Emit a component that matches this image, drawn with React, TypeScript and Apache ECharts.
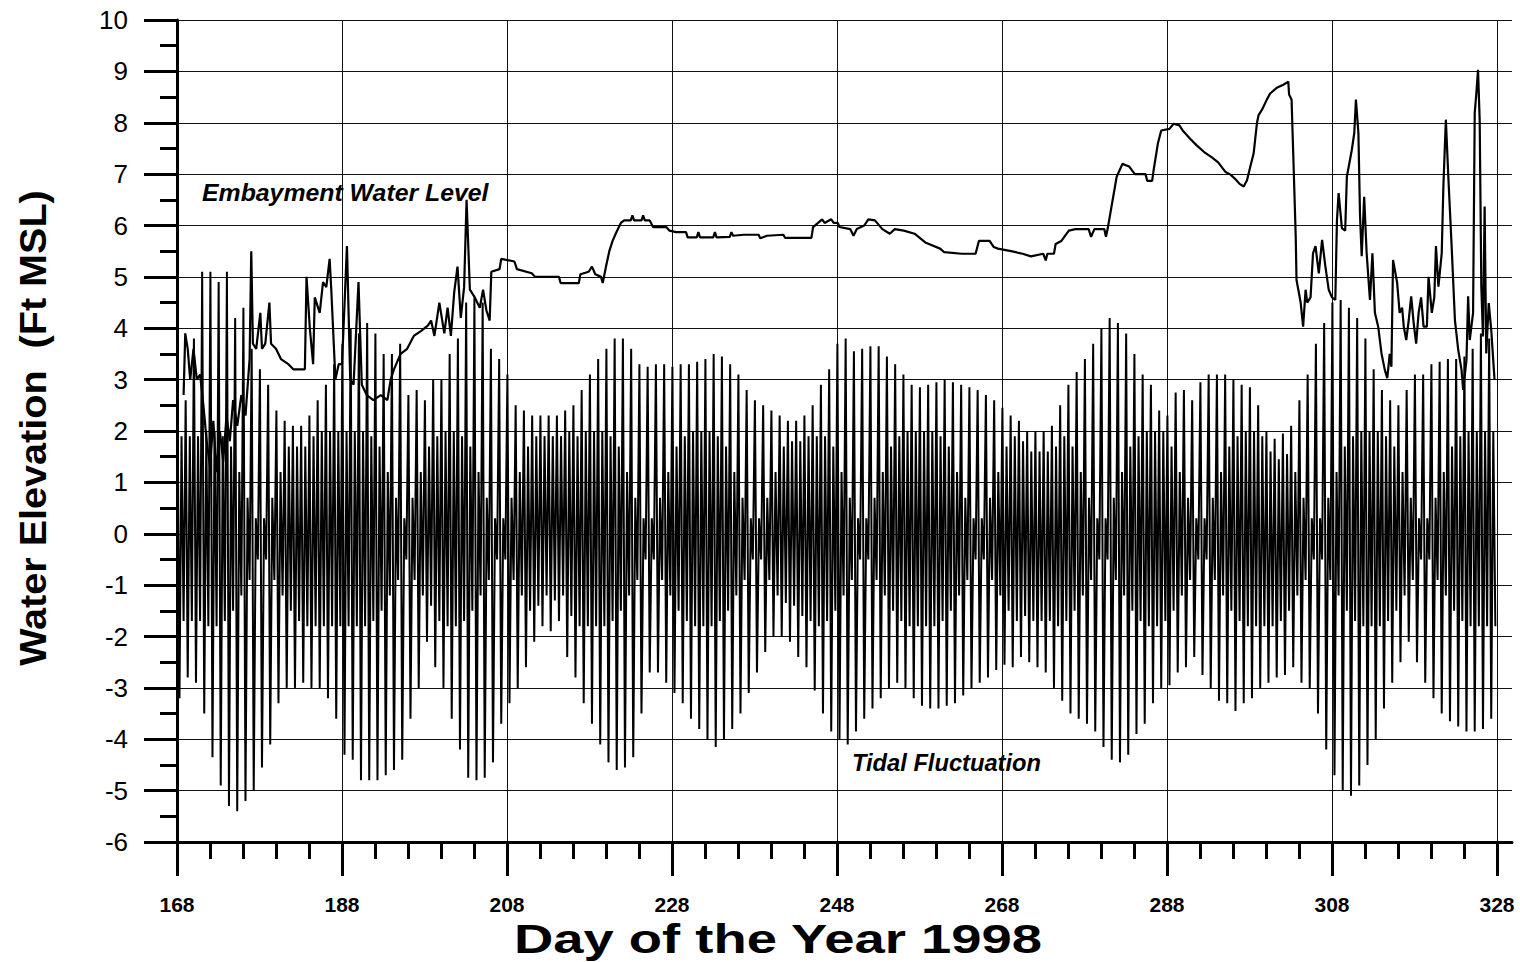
import { useEffect, useRef } from "react";
import * as echarts from "echarts";

// First day of the record; the x axis runs in days after this one.
const FIRST_DAY = 168;

// Tide extremes, one entry per day from day 168 to day 327 (ft MSL).
const higherHigh = [
  3.0, 2.6, 3.8, 5.1, 5.1, 4.9, 5.1, 4.2, 4.4, 3.6,
  3.2, 2.9, 2.4, 2.2, 2.1, 2.1, 2.3, 2.6, 2.9, 3.3,
  3.7, 4.0, 3.9, 4.1, 3.9, 3.5, 3.5, 3.7, 2.7, 2.8,
  2.6, 3.0, 3.0, 3.5, 3.8, 4.5, 4.6, 4.5, 3.6, 3.4,
  3.1, 2.5, 2.4, 2.3, 2.3, 2.3, 2.3, 2.4, 2.5, 2.8,
  3.1, 3.4, 3.6, 3.8, 3.8, 3.6, 3.3, 3.25, 3.3, 3.3,
  3.25, 3.3, 3.3, 3.35, 3.4, 3.5, 3.45, 3.3, 3.1, 2.8,
  2.6, 2.5, 2.4, 2.3, 2.2, 2.2, 2.3, 2.5, 2.9, 3.2,
  3.7, 3.8, 3.55, 3.6, 3.65, 3.65, 3.45, 3.3, 3.1, 2.9,
  2.85, 2.9, 2.95, 3.0, 2.95, 2.9, 2.85, 2.8, 2.7, 2.6,
  2.45, 2.3, 2.2, 2.0, 2.0, 2.0, 2.1, 2.5, 2.9, 3.15,
  3.4, 3.7, 4.0, 4.2, 4.1, 3.9, 3.5, 3.1, 2.9, 2.4,
  2.3, 2.75, 2.8, 2.6, 2.95, 3.1, 3.1, 3.1, 3.0, 2.9,
  2.85, 2.5, 2.0, 1.85, 1.95, 2.1, 2.6, 3.1, 3.7, 4.1,
  4.5, 4.55, 4.4, 4.2, 3.8, 3.2, 2.8, 2.6, 2.5, 2.8,
  3.1, 3.1, 3.3, 3.35, 3.4, 3.4, 3.45, 3.6, 3.9, 3.8,
];

const lowerLow = [
  -3.2, -2.8, -2.9, -3.5, -4.35, -4.9, -5.3, -5.4, -5.2, -5.0,
  -4.55, -4.1, -3.3, -3.0, -3.0, -2.9, -3.0, -3.0, -3.2, -3.6,
  -4.3, -4.4, -4.8, -4.8, -4.8, -4.7, -4.6, -4.4, -3.6, -3.0,
  -2.1, -2.6, -3.0, -3.6, -4.2, -4.75, -4.8, -4.75, -4.45, -3.7,
  -3.3, -3.0, -2.6, -2.1, -1.8, -1.9, -1.7, -2.4, -2.8, -3.3,
  -3.7, -4.1, -4.45, -4.6, -4.55, -4.35, -3.5, -2.7, -2.7, -2.9,
  -3.1, -3.3, -3.6, -3.8, -4.0, -4.15, -4.0, -3.8, -3.5, -3.1,
  -2.7, -2.3, -2.0, -2.0, -2.1, -2.4, -2.6, -3.05, -3.5, -3.85,
  -4.0, -4.1, -3.85, -3.6, -3.4, -3.2, -3.0, -2.9, -3.0, -3.2,
  -3.35, -3.4, -3.4, -3.35, -3.3, -3.15, -3.0, -2.9, -2.8, -2.65,
  -2.55, -2.6, -2.4, -2.5, -2.6, -2.7, -3.0, -3.25, -3.5, -3.6,
  -3.7, -3.85, -4.15, -4.4, -4.45, -4.3, -3.9, -3.7, -3.3, -3.0,
  -2.95, -2.7, -2.6, -2.4, -2.75, -3.0, -3.25, -3.3, -3.45, -3.3,
  -3.2, -3.0, -2.9, -2.8, -2.75, -2.6, -2.9, -3.0, -3.5, -4.2,
  -4.7, -5.0, -5.1, -4.9, -4.5, -4.0, -3.4, -2.9, -2.5, -2.1,
  -2.5, -2.9, -3.2, -3.5, -3.65, -3.75, -3.85, -3.85, -3.8, -3.6,
];

const lowerHigh = [
  1.9, 1.9, 1.9, 2.0, 2.0, 1.9, 1.7, 1.2, 0.7, 0.3,
  0.3, 0.7, 1.2, 1.7, 1.7, 1.7, 1.9, 2.0, 2.0, 2.0,
  2.0, 2.0, 2.0, 1.9, 1.7, 1.2, 0.7, 0.3, 0.7, 1.2,
  1.7, 1.9, 2.0, 2.0, 1.9, 1.7, 1.2, 0.7, 0.3, 0.3,
  0.7, 1.2, 1.7, 1.9, 1.9, 1.9, 1.9, 2.0, 1.9, 2.0,
  2.0, 2.0, 1.9, 1.7, 1.2, 0.7, 0.3, 0.3, 0.7, 1.2,
  1.7, 1.9, 2.0, 2.0, 2.0, 1.9, 1.7, 1.2, 0.7, 0.3,
  0.3, 0.7, 1.2, 1.7, 1.8, 1.8, 1.9, 1.9, 1.9, 1.7,
  1.2, 0.7, 0.3, 0.3, 0.7, 1.2, 1.7, 1.9, 2.0, 2.0,
  2.0, 2.0, 1.9, 1.7, 1.2, 0.7, 0.3, 0.3, 0.7, 1.2,
  1.7, 1.9, 1.8, 1.6, 1.6, 1.6, 1.7, 1.9, 1.7, 1.2,
  0.7, 0.3, 0.3, 0.7, 1.2, 1.7, 1.9, 2.0, 2.0, 2.0,
  1.7, 1.2, 0.7, 0.3, 0.3, 0.7, 1.2, 1.7, 1.9, 2.0,
  2.0, 1.9, 1.6, 1.45, 1.55, 1.2, 0.7, 0.3, 0.3, 0.7,
  1.2, 1.7, 1.9, 2.0, 2.0, 2.0, 1.9, 1.7, 1.2, 0.7,
  0.3, 0.3, 0.7, 1.2, 1.7, 1.9, 2.0, 2.0, 2.0, 2.0,
];

const higherLow = [
  -1.7, -1.7, -1.7, -1.8, -1.8, -1.7, -1.5, -1.2, -0.9, -0.5,
  -0.5, -0.9, -1.2, -1.5, -1.7, -1.8, -1.8, -1.8, -1.8, -1.8,
  -1.8, -1.8, -1.8, -1.7, -1.5, -1.2, -0.9, -0.5, -0.9, -1.2,
  -1.4, -1.7, -1.8, -1.8, -1.7, -1.5, -1.2, -0.9, -0.5, -0.5,
  -0.9, -1.2, -1.5, -1.4, -1.2, -1.3, -1.2, -1.6, -1.8, -1.8,
  -1.8, -1.8, -1.7, -1.5, -1.2, -0.9, -0.5, -0.5, -0.9, -1.2,
  -1.5, -1.7, -1.8, -1.8, -1.8, -1.7, -1.5, -1.2, -0.9, -0.5,
  -0.5, -0.9, -1.2, -1.35, -1.4, -1.6, -1.7, -1.8, -1.7, -1.5,
  -1.2, -0.9, -0.5, -0.5, -0.9, -1.2, -1.5, -1.7, -1.8, -1.8,
  -1.8, -1.8, -1.7, -1.5, -1.2, -0.9, -0.5, -0.5, -0.9, -1.2,
  -1.5, -1.7, -1.6, -1.7, -1.7, -1.7, -1.8, -1.7, -1.5, -1.2,
  -0.9, -0.5, -0.5, -0.9, -1.2, -1.5, -1.7, -1.8, -1.8, -1.7,
  -1.5, -1.2, -0.9, -0.5, -0.5, -0.9, -1.2, -1.5, -1.7, -1.8,
  -1.8, -1.8, -1.8, -1.7, -1.5, -1.2, -0.9, -0.5, -0.5, -0.9,
  -1.2, -1.5, -1.7, -1.8, -1.8, -1.8, -1.7, -1.5, -1.2, -0.9,
  -0.5, -0.5, -0.9, -1.2, -1.5, -1.7, -1.8, -1.8, -1.8, -1.8,
];

// When in each day the four tide extremes occur (fraction of a day).
const tidePhase = [0.05, 0.3, 0.55, 0.8];

// Embayment water level record: day of year and level (ft MSL).
const embaymentDay = [
  168.8, 169.0, 169.3, 169.6, 170.0, 170.4, 170.8, 171.2, 171.6, 172.0,
  172.4, 172.8, 173.2, 173.6, 174.0, 174.4, 174.8, 175.3, 175.8, 176.3,
  176.8, 177.0, 177.2, 177.6, 178.1, 178.3, 178.7, 179.2, 179.4, 180.0,
  180.6, 181.5, 182.1, 182.9, 183.5, 183.7, 184.1, 184.5, 184.7, 185.3,
  185.7, 186.1, 186.5, 186.7, 187.2, 187.6, 188.0, 188.6, 189.0, 189.4,
  190.0, 190.4, 191.0, 191.8, 192.7, 193.5, 193.9, 194.3, 195.1, 195.9,
  196.7, 197.6, 198.4, 198.8, 199.2, 199.8, 200.4, 200.8, 201.2, 201.6,
  202.0, 202.4, 202.8, 203.1, 203.5, 204.1, 204.7, 205.1, 205.5, 205.9,
  206.1, 207.1, 207.3, 208.9, 209.2, 211.0, 211.4, 214.3, 214.5, 216.7,
  216.9, 217.9, 218.3, 218.7, 219.4, 219.6, 220.0, 220.4, 220.8, 221.2,
  221.8, 222.2, 223.0, 223.2, 223.4, 224.3, 224.5, 224.7, 225.3, 225.7,
  227.3, 227.7, 228.5, 229.7, 229.9, 231.0, 231.2, 231.4, 233.0, 233.2,
  233.4, 235.0, 235.2, 235.4, 236.7, 238.5, 238.7, 239.5, 241.5, 241.7,
  244.9, 245.1, 245.7, 246.2, 246.5, 247.3, 247.6, 248.1, 248.3, 249.6,
  250.0, 250.4, 251.3, 251.8, 252.6, 253.5, 254.4, 255.0, 256.1, 257.4,
  258.7, 260.5, 261.0, 263.1, 264.8, 265.2, 266.5, 267.0, 267.5, 269.1,
  270.5, 271.5, 273.0, 273.3, 273.5, 274.3, 274.5, 275.2, 276.1, 276.9,
  278.5, 278.8, 279.2, 280.4, 280.6, 280.8, 281.2, 281.9, 282.6, 283.4,
  284.1, 285.4, 285.6, 286.2, 286.4, 286.9, 287.3, 288.3, 288.8, 289.5,
  289.9, 290.8, 291.6, 292.5, 293.4, 294.2, 295.1, 295.7, 296.3, 296.8,
  297.3, 297.7, 298.1, 298.5, 298.9, 299.1, 299.5, 300.1, 300.5, 301.3,
  302.1, 302.7, 302.8, 303.1, 303.3, 303.6, 303.7, 304.2, 304.5, 304.8,
  305.0, 305.4, 305.7, 306.0, 306.4, 306.8, 307.2, 307.6, 308.0, 308.4,
  308.6, 308.8, 309.2, 309.6, 309.8, 310.4, 310.7, 310.9, 311.2, 311.4,
  311.6, 311.9, 312.2, 312.6, 312.9, 313.2, 313.6, 314.0, 314.4, 314.7,
  315.0, 315.2, 315.4, 315.9, 316.2, 316.5, 316.7, 317.0, 317.3, 317.6,
  317.9, 318.2, 318.5, 318.8, 319.1, 319.5, 319.7, 320.1, 320.4, 320.6,
  320.9, 321.3, 321.5, 321.8, 322.1, 322.5, 322.9, 323.3, 323.7, 323.9,
  324.3, 324.5, 324.7, 325.1, 325.3, 325.5, 325.7, 325.9, 326.1, 326.3,
  326.5, 326.7, 327.0, 327.3, 327.7,
];

const embaymentLevel = [
  2.7, 3.9, 3.6, 3.0, 3.6, 3.0, 3.1, 2.5, 1.8, 1.3,
  2.2, 1.2, 2.0, 1.4, 2.3, 1.8, 2.6, 2.1, 2.7, 2.3,
  3.4, 5.5, 3.7, 3.6, 4.3, 3.6, 3.7, 4.5, 3.7, 3.6,
  3.4, 3.3, 3.2, 3.2, 3.2, 5.0, 4.0, 3.3, 4.6, 4.3,
  4.9, 4.8, 5.35, 4.75, 3.0, 3.3, 3.3, 5.6, 3.0, 2.9,
  4.9, 2.9, 2.7, 2.6, 2.7, 2.6, 3.0, 3.2, 3.5, 3.6,
  3.85, 3.95, 4.05, 4.15, 3.85, 4.5, 3.9, 4.4, 3.85, 4.7,
  5.2, 4.2, 4.8, 6.5, 4.75, 4.6, 4.4, 4.75, 4.35, 4.15,
  5.1, 5.15, 5.35, 5.3, 5.15, 5.07, 5.0, 5.0, 4.88, 4.88,
  5.05, 5.1, 5.2, 5.05, 5.0, 4.88, 5.2, 5.5, 5.7, 5.85,
  6.05, 6.1, 6.1, 6.2, 6.1, 6.1, 6.2, 6.1, 6.1, 5.97,
  5.97, 5.9, 5.87, 5.87, 5.77, 5.77, 5.87, 5.77, 5.77, 5.87,
  5.77, 5.78, 5.87, 5.8, 5.82, 5.82, 5.75, 5.8, 5.82, 5.76,
  5.76, 5.97, 6.05, 6.12, 6.05, 6.12, 6.05, 6.05, 5.97, 5.93,
  5.8, 5.93, 6.0, 6.12, 6.1, 5.93, 5.84, 5.93, 5.9, 5.84,
  5.67, 5.55, 5.48, 5.45, 5.45, 5.7, 5.7, 5.58, 5.55, 5.5,
  5.45, 5.4, 5.45, 5.32, 5.45, 5.45, 5.64, 5.7, 5.9, 5.93,
  5.93, 5.78, 5.93, 5.93, 5.78, 5.93, 6.3, 6.95, 7.2, 7.15,
  7.0, 7.0, 6.87, 6.87, 7.1, 7.6, 7.85, 7.88, 7.98, 7.95,
  7.85, 7.69, 7.56, 7.43, 7.33, 7.23, 7.04, 6.99, 6.9, 6.81,
  6.76, 6.88, 7.15, 7.4, 7.99, 8.15, 8.25, 8.45, 8.57, 8.68,
  8.74, 8.8, 8.55, 8.45, 7.4, 5.8, 4.94, 4.5, 4.03, 4.75,
  4.5, 4.6, 5.46, 5.6, 5.07, 5.72, 5.2, 4.75, 4.6, 4.55,
  6.1, 6.63, 5.95, 5.9, 6.95, 7.47, 7.8, 8.45, 7.8, 6.18,
  5.4, 6.56, 5.46, 4.55, 5.46, 4.3, 4.03, 3.51, 3.19, 3.03,
  3.5, 3.25, 5.33, 4.88, 4.3, 4.4, 4.03, 3.77, 4.16, 4.62,
  4.1, 3.7, 4.3, 4.6, 4.03, 4.03, 5.0, 4.3, 4.6, 5.6,
  4.81, 5.46, 6.76, 8.06, 6.95, 5.6, 4.16, 3.58, 3.19, 2.8,
  3.38, 4.62, 3.77, 4.3, 8.19, 8.58, 9.03, 8.06, 4.81, 3.84,
  6.37, 3.51, 4.49, 3.97, 3.0,
];

const yAxisTitle = "Water Elevation  (Ft MSL)";
const xAxisTitle = "Day of the Year 1998";
const embaymentLabel = "Embayment Water Level";
const tideLabel = "Tidal Fluctuation";

const FONT = '"Liberation Sans", Arial, Helvetica, sans-serif';
const INK = "#000";

export default function App() {
  const ref = useRef<HTMLDivElement>(null);

  useEffect(() => {
    if (!ref.current) return;
    const chart = echarts.init(ref.current, null, { renderer: "svg" });

    // Tide trace: higher high, lower low, lower high, higher low in each day.
    const tide: number[][] = [];
    higherHigh.forEach((hh, i) => {
      const levels = [hh, lowerLow[i], lowerHigh[i], higherLow[i]];
      levels.forEach((v, k) => tide.push([i + tidePhase[k], v]));
    });

    const embayment = embaymentDay.map((d, i) => [d - FIRST_DAY, embaymentLevel[i]]);

    const tickStyle = { color: INK, width: 3 };
    const gridLine = { color: "#111", width: 1 };

    chart.setOption({
      animation: false,
      backgroundColor: "#fff",
      grid: [
        { left: 177, right: 23, top: 20, bottom: 120 },
        { left: 1497, right: 8, top: 20, bottom: 120 },
      ],
      xAxis: [
        {
          type: "value",
          gridIndex: 0,
          min: 0,
          max: 160,
          interval: 20,
          axisLine: { show: true, onZero: false, lineStyle: tickStyle },
          axisTick: { show: true, inside: false, length: 34, lineStyle: tickStyle },
          minorTick: { show: true, splitNumber: 5, length: 17, lineStyle: tickStyle },
          axisLabel: {
            formatter: (v: number) => String(v + FIRST_DAY),
            fontSize: 21,
            fontWeight: "bold",
            fontFamily: FONT,
            color: INK,
            margin: 52,
          },
          splitLine: { show: true, lineStyle: gridLine },
        },
        {
          type: "value",
          gridIndex: 1,
          min: 0,
          max: 1,
          axisLine: { show: true, onZero: false, lineStyle: tickStyle },
          axisTick: { show: false },
          axisLabel: { show: false },
          splitLine: { show: false },
        },
      ],
      yAxis: [
        {
          type: "value",
          gridIndex: 0,
          min: -6,
          max: 10,
          interval: 1,
          axisLine: { show: true, onZero: false, lineStyle: tickStyle },
          axisTick: { show: true, inside: false, length: 33, lineStyle: tickStyle },
          minorTick: { show: true, splitNumber: 2, length: 17, lineStyle: tickStyle },
          axisLabel: { fontSize: 26, fontFamily: FONT, color: INK, margin: 49 },
          splitLine: { show: true, lineStyle: gridLine },
        },
        {
          type: "value",
          gridIndex: 1,
          min: -6,
          max: 10,
          interval: 1,
          axisLine: { show: false },
          axisTick: { show: false },
          axisLabel: { show: false },
          splitLine: { show: true, lineStyle: gridLine },
        },
      ],
      series: [
        {
          name: tideLabel,
          type: "line",
          xAxisIndex: 0,
          yAxisIndex: 0,
          data: tide,
          symbol: "none",
          showSymbol: false,
          silent: true,
          lineStyle: { color: INK, width: 2 },
        },
        {
          name: embaymentLabel,
          type: "line",
          xAxisIndex: 0,
          yAxisIndex: 0,
          data: embayment,
          symbol: "none",
          showSymbol: false,
          silent: true,
          lineStyle: { color: INK, width: 2.2 },
        },
      ],
      graphic: [
        {
          type: "text",
          x: 33,
          y: 428,
          rotation: Math.PI / 2,
          scaleX: 1.07,
          style: {
            text: yAxisTitle,
            fill: INK,
            fontSize: 37,
            fontWeight: "bold",
            fontFamily: FONT,
            align: "center",
            verticalAlign: "middle",
          },
        },
        {
          type: "text",
          x: 778,
          y: 939,
          scaleX: 1.36,
          style: {
            text: xAxisTitle,
            fill: INK,
            fontSize: 40,
            fontWeight: "bold",
            fontFamily: FONT,
            align: "center",
            verticalAlign: "middle",
          },
        },
        {
          type: "text",
          x: 202,
          y: 193,
          scaleX: 1.08,
          style: {
            text: embaymentLabel,
            fill: INK,
            fontSize: 23,
            fontWeight: "bold",
            fontStyle: "italic",
            fontFamily: FONT,
            align: "left",
            verticalAlign: "middle",
          },
        },
        {
          type: "text",
          x: 852,
          y: 763,
          scaleX: 1.03,
          style: {
            text: tideLabel,
            fill: INK,
            fontSize: 23,
            fontWeight: "bold",
            fontStyle: "italic",
            fontFamily: FONT,
            align: "left",
            verticalAlign: "middle",
          },
        },
      ],
    });

    return () => chart.dispose();
  }, []);

  return (
    <div
      ref={ref}
      style={{ position: "absolute", left: 0, top: 0, width: 1520, height: 962 }}
    />
  );
}
